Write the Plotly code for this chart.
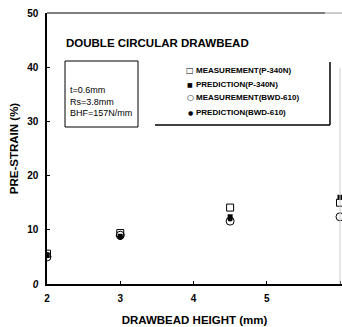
import plotly.graph_objects as go

# ---- data ----
drawbead_height = [2, 3, 4.5, 6]
meas_p340 = [5.6, 9.4, 14.1, 15.0]
pred_p340 = [5.4, 8.8, 12.4, 16.0]
meas_bwd = [5.0, 9.0, 11.6, 12.4]
pred_bwd = [5.2, 8.6, 12.0, None]
x_ticks = [2, 3, 4, 5, 6]
y_ticks = [0, 10, 20, 30, 40, 50]
y_ticktext = ["<i>0</i>", "10", "20", "30", "40", "50"]
series_names = ["MEASUREMENT(P-340N)", "PREDICTION(P-340N)",
                "MEASUREMENT(BWD-610)", "PREDICTION(BWD-610)"]
legend_glyphs = ["\u25a1", "\u25a0", "\u25cb", "\u25cf"]
params = ["t=0.6mm", "Rs=3.8mm", "BHF=157N/mm"]

W, H = 342, 327
L, R, T, B = 47, 0, 13, 43
pw, ph = W - L - R, H - T - B

def px(xp):
    return (xp - L) / pw

def py(yp):
    return (H - B - yp) / ph

FONT = "Liberation Sans, Arial, sans-serif"
NARROW = "Liberation Sans Narrow, Liberation Sans, Arial, sans-serif"

fig = go.Figure()
fig.add_trace(go.Scatter(x=drawbead_height, y=meas_p340, mode="markers", name=series_names[0],
                         marker=dict(symbol="square-open", size=7, color="black", line=dict(width=1))))
fig.add_trace(go.Scatter(x=drawbead_height, y=meas_bwd, mode="markers", name=series_names[2],
                         marker=dict(symbol="circle-open", size=8, color="black", line=dict(width=1))))
fig.add_trace(go.Scatter(x=drawbead_height, y=pred_p340, mode="markers", name=series_names[1],
                         marker=dict(symbol="square", size=5, color="black")))
fig.add_trace(go.Scatter(x=drawbead_height, y=pred_bwd, mode="markers", name=series_names[3],
                         marker=dict(symbol="circle", size=5, color="black")))

x_per_px = 4 / 293.0
fig.update_xaxes(range=[2, 2 + pw * x_per_px], tickvals=x_ticks, showline=True, linecolor="black",
                 linewidth=1.5, mirror=False, ticks="inside", ticklen=3, tickcolor="black",
                 showgrid=False, zeroline=False, automargin=False,
                 tickfont=dict(family=FONT, size=10, color="black", weight="bold"),
                 ticklabelstandoff=4,
                 title=dict(text="DRAWBEAD HEIGHT (mm)", font=dict(family=FONT, size=11.5, color="black", weight="bold"),
                            standoff=13))
fig.update_yaxes(range=[0, 50], tickvals=y_ticks, ticktext=y_ticktext, showline=True, linecolor="black",
                 linewidth=1.5, ticks="inside", ticklen=3, tickcolor="black", showgrid=False, zeroline=False,
                 automargin=False,
                 tickfont=dict(family=FONT, size=10, color="black", weight="bold"),
                 ticklabelstandoff=5,
                 title=dict(text="PRE-STRAIN (%)", font=dict(family=FONT, size=11.5, color="black", weight="bold"),
                            standoff=6))

shapes = [
    dict(type="line", xref="paper", yref="paper", x0=0, x1=px(325), y0=1, y1=1,
         line=dict(color="black", width=1.2)),
    dict(type="line", xref="paper", yref="paper", x0=px(325), x1=1, y0=1, y1=1,
         line=dict(color="#999999", width=1)),
    dict(type="line", xref="paper", yref="paper", x0=px(340), x1=px(340), y0=0, y1=py(68),
         line=dict(color="#cccccc", width=1)),
    dict(type="rect", xref="paper", yref="paper", x0=px(65), x1=px(138), y0=py(127), y1=py(61),
         line=dict(color="black", width=1)),
    dict(type="line", xref="paper", yref="paper", x0=px(330), x1=px(330), y0=py(125), y1=py(62),
         line=dict(color="black", width=1.5)),
    dict(type="line", xref="paper", yref="paper", x0=px(155), x1=px(330), y0=py(125), y1=py(125),
         line=dict(color="black", width=1.5)),
]

annotations = [
    dict(text="DOUBLE CIRCULAR DRAWBEAD", xref="paper", yref="paper", x=px(64), y=py(43),
         xanchor="left", yanchor="middle", showarrow=False,
         font=dict(family=FONT, size=11.5, color="black", weight="bold")),
]
for i, t in enumerate(params):
    annotations.append(dict(text=t, xref="paper", yref="paper", x=px(68), y=py(90 + 11.5 * i),
                            xanchor="left", yanchor="middle", showarrow=False,
                            font=dict(family=NARROW, size=9, color="black")))
leg_y = [70, 84, 98, 112]
leg_sizes = [8, 6, 8, 6]
for i, (g, n) in enumerate(zip(legend_glyphs, series_names)):
    annotations.append(dict(text=g, xref="paper", yref="paper", x=px(190), y=py(leg_y[i]),
                            xanchor="center", yanchor="middle", showarrow=False,
                            font=dict(family="DejaVu Sans", size=leg_sizes[i], color="black")))
    annotations.append(dict(text=n, xref="paper", yref="paper", x=px(194), y=py(leg_y[i]),
                            xanchor="left", yanchor="middle", showarrow=False,
                            font=dict(family=NARROW, size=8, color="black", weight="bold")))

fig.update_layout(width=W, height=H, margin=dict(l=L, r=R, t=T, b=B, autoexpand=False), showlegend=False,
                  plot_bgcolor="white", paper_bgcolor="white", shapes=shapes, annotations=annotations)

fig.write_html("out.html", config={"displayModeBar": False},
               post_script="document.body.style.margin='0';document.body.style.overflow='hidden';")
